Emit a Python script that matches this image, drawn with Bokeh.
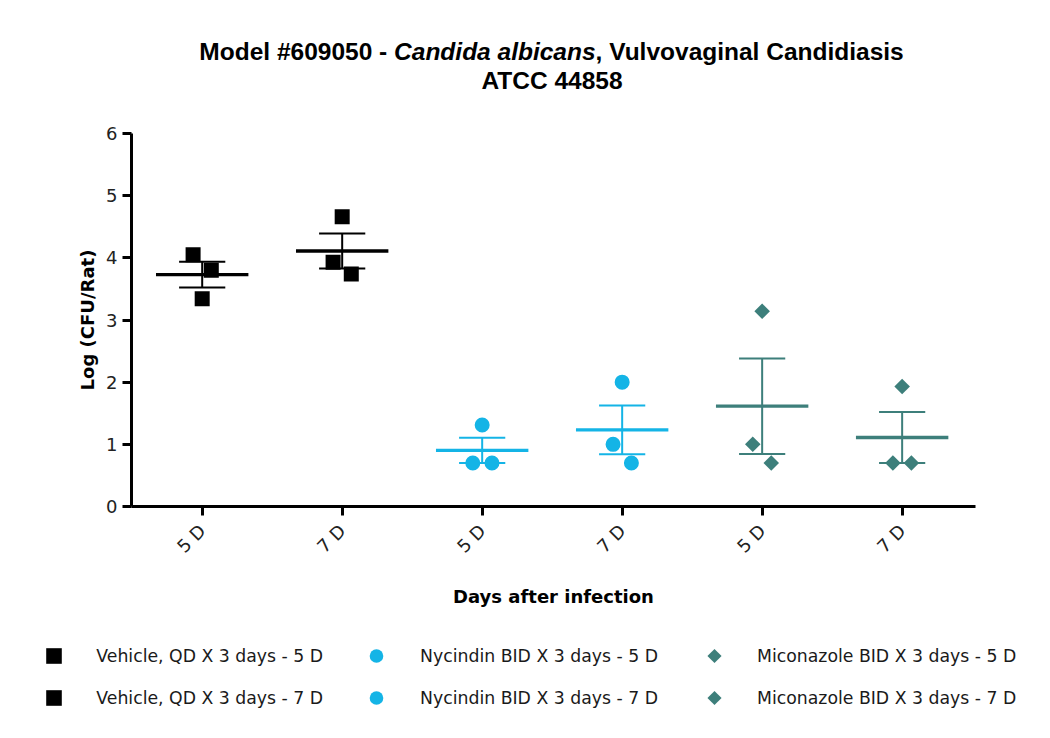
import math
import numpy as np
from bokeh.plotting import figure
from bokeh.layouts import column
from bokeh.models import (FixedTicker, Label, Legend, LegendItem, Range1d)
from bokeh.embed import file_html
from bokeh.resources import INLINE

# ---------------- data ----------------
group_labels = [
    "Vehicle, QD X 3 days - 5 D",
    "Vehicle, QD X 3 days - 7 D",
    "Nycindin BID X 3 days - 5 D",
    "Nycindin BID X 3 days - 7 D",
    "Miconazole BID X 3 days - 5 D",
    "Miconazole BID X 3 days - 7 D",
]
tick_labels = ["5 D", "7 D", "5 D", "7 D", "5 D", "7 D"]

vehicle_5d = [4.05, 3.80, 3.34]
vehicle_7d = [4.66, 3.93, 3.74]
nycindin_5d = [1.31, 0.70, 0.70]
nycindin_7d = [2.00, 1.00, 0.70]
miconazole_5d = [3.14, 1.00, 0.70]
miconazole_7d = [1.93, 0.70, 0.70]

values = [vehicle_5d, vehicle_7d, nycindin_5d, nycindin_7d, miconazole_5d, miconazole_7d]

# horizontal spread of the individual points within each column (category units)
spread = [
    [-0.065, 0.065, 0.0],
    [0.0, -0.065, 0.065],
    [0.0, -0.067, 0.07],
    [0.0, -0.065, 0.066],
    [0.0, -0.067, 0.065],
    [0.0, -0.066, 0.066],
]

BLACK = "#000000"
CYAN = "#14B4E6"
TEAL = "#3D7F7B"
colors = [BLACK, BLACK, CYAN, CYAN, TEAL, TEAL]
markers = ["square", "square", "circle", "circle", "square", "square"]
angles = [0, 0, 0, 0, math.pi / 4, math.pi / 4]
sizes = [15, 15, 15, 15, 11, 11]

W = 1034
H_TITLE, H_MAIN, H_LEG = 105, 520, 97

# ---------------- title figure ----------------
pt = figure(width=W, height=H_TITLE, output_backend="svg", toolbar_location=None,
            x_range=Range1d(0, W), y_range=Range1d(H_TITLE, 0),
            x_axis_type=None, y_axis_type=None, min_border=0, frame_align=False)
pt.outline_line_color = None
pt.grid.visible = False

title_font = "Liberation Sans"
fs = 24.5
k = fs / 24.0
center_x = 551.5
base1, base2 = 50.5, 79.5
w1, w2, w3, sp = 190.8 * k, 197.4 * k, 302.8 * k, 6.67 * k
x_start = center_x - (w1 + w2 + w3) / 2.0
title_parts = [
    ("Model #609050 -", x_start + w1 - sp, "right", "bold"),
    ("Candida albicans", x_start + w1, "left", "bold italic"),
    (", Vulvovaginal Candidiasis", x_start + w1 + w2, "left", "bold"),
]
for txt, x, align, style in title_parts:
    pt.add_layout(Label(x=x, y=base1, text=txt, text_align=align,
                        text_baseline="alphabetic", text_font=title_font,
                        text_font_size=f"{fs}px", text_font_style=style,
                        text_color="black"))
pt.add_layout(Label(x=center_x, y=base2, text="ATCC 44858", text_align="center",
                    text_baseline="alphabetic", text_font=title_font,
                    text_font_size=f"{fs}px", text_font_style="bold", text_color="black"))

# ---------------- main figure ----------------
p = figure(width=W, height=H_MAIN, output_backend="svg", toolbar_location=None,
           x_range=Range1d(0.495, 6.524), y_range=Range1d(0, 6),
           min_border_left=131, min_border_right=59,
           min_border_top=28, min_border_bottom=119, frame_align=False)
p.outline_line_color = None
p.xgrid.visible = False
p.ygrid.visible = False

for ax in (p.xaxis[0], p.yaxis[0]):
    ax.axis_line_width = 3
    ax.axis_line_color = "black"
    ax.major_tick_line_width = 3
    ax.major_tick_line_color = "black"
    ax.major_tick_in = 0
    ax.major_tick_out = 9
    ax.minor_tick_line_color = None
    ax.major_label_text_font = "DejaVu Sans"
    ax.major_label_text_font_size = "18px"
    ax.major_label_text_color = "#222222"
    ax.axis_label_text_font = "DejaVu Sans"
    ax.axis_label_text_font_size = "18px"
    ax.axis_label_text_font_style = "bold"
    ax.axis_label_text_color = "black"

p.yaxis.ticker = FixedTicker(ticks=[0, 1, 2, 3, 4, 5, 6])
p.yaxis.major_label_standoff = 5
p.yaxis.axis_label = "Log (CFU/Rat)"
p.yaxis.axis_label_standoff = 5

p.xaxis.ticker = FixedTicker(ticks=[1, 2, 3, 4, 5, 6])
p.xaxis.major_label_overrides = {i + 1: t for i, t in enumerate(tick_labels)}
p.xaxis.major_label_orientation = math.pi / 4
p.xaxis.major_label_standoff = 12
p.xaxis.axis_label = "Days after infection"
p.xaxis.axis_label_standoff = 19

half_mean = 0.33
half_cap = 0.165
for i, vals in enumerate(values):
    xc = i + 1
    arr = np.array(vals)
    m = arr.mean()
    sem = arr.std(ddof=1) / math.sqrt(len(arr))
    c = colors[i]
    p.segment(x0=[xc - half_mean], x1=[xc + half_mean], y0=[m], y1=[m],
              line_color=c, line_width=3.3)
    p.segment(x0=[xc], x1=[xc], y0=[m - sem], y1=[m + sem], line_color=c, line_width=2)
    p.segment(x0=[xc - half_cap, xc - half_cap], x1=[xc + half_cap, xc + half_cap],
              y0=[m - sem, m + sem], y1=[m - sem, m + sem], line_color=c, line_width=2)

for i, vals in enumerate(values):
    xs = [i + 1 + d for d in spread[i]]
    p.scatter(xs, vals, marker=markers[i], size=sizes[i], angle=angles[i],
              fill_color=colors[i], line_color=colors[i], line_width=0)

# ---------------- legend figure ----------------
# Default ranges of this strip are in pixels (y downwards) for the key layout;
# the group renderers feeding the legend live on an off-screen range.
pl = figure(width=W, height=H_LEG, output_backend="svg", toolbar_location=None,
            x_range=Range1d(0, W), y_range=Range1d(H_LEG, 0),
            x_axis_type=None, y_axis_type=None, min_border=0, frame_align=False)
pl.extra_x_ranges = {"off": Range1d(-20, -19)}
pl.extra_y_ranges = {"off": Range1d(-20, -19)}
pl.outline_line_color = None
pl.grid.visible = False

key_renderers = []
for i, vals in enumerate(values):
    xs = [i + 1 + d for d in spread[i]]
    # the rotated-square key cannot be drawn by the legend itself (keys are
    # drawn unrotated), so those keys are transparent and drawn below instead
    alpha = 0.0 if angles[i] else 1.0
    r = pl.scatter(xs, vals, marker=markers[i], x_range_name="off", y_range_name="off",
                   fill_color=colors[i], line_color=colors[i], line_width=0,
                   fill_alpha=alpha, line_alpha=alpha)
    key_renderers.append(r)

row2_center = 72.5
row_step = 42
GH = 39
leg_specs = [
    # (renderer indices, glyph box width, label standoff, glyph centre x)
    ([0, 1], 39, 23, 53.8),
    ([2, 3], 34, 27, 376.0),
    ([4, 5], 40, 23, 714.0),
]
for idxs, gw, stand, cx in leg_specs:
    items = [LegendItem(label=group_labels[j], renderers=[key_renderers[j]]) for j in idxs]
    leg = Legend(items=items, location=(cx - gw / 2.0, H_LEG - row2_center - GH / 2.0),
                 orientation="vertical", glyph_width=gw, glyph_height=GH,
                 label_standoff=stand, spacing=row_step - GH,
                 padding=0, margin=0, border_line_color=None,
                 background_fill_alpha=0, label_text_font="DejaVu Sans",
                 label_text_font_size="17.3px", label_text_color="#1a1a1a")
    pl.add_layout(leg, "center")

# rotated-square legend keys for the Miconazole rows
diamond_cx = leg_specs[2][3]
pl.scatter([diamond_cx, diamond_cx], [row2_center - row_step, row2_center],
           marker="square", angle=math.pi / 4, size=10,
           fill_color=TEAL, line_color=TEAL, line_width=0)

layout = column(pt, p, pl, spacing=0)
open("out.html", "w").write(file_html(layout, INLINE))
